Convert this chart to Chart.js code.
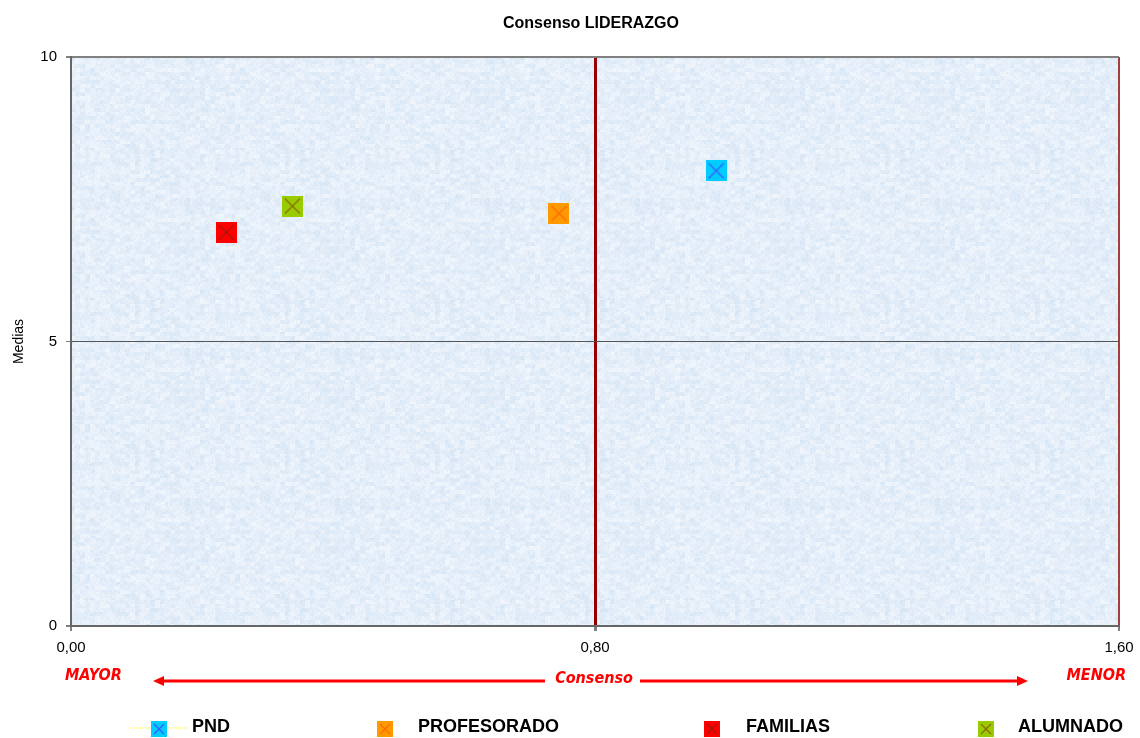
<!DOCTYPE html>
<html>
<head>
<meta charset="utf-8">
<script src="https://cdn.jsdelivr.net/npm/chart.js@4.4.0/dist/chart.umd.min.js"></script>
<style>
  html, body { margin: 0; padding: 0; background: #ffffff; }
</style>
</head>
<body>
<canvas id="chart" width="1140" height="738"></canvas>
<script>
// ---- data ----
var series = ['PND', 'PROFESORADO', 'FAMILIAS', 'ALUMNADO'];
var consenso = [0.985, 0.745, 0.237, 0.338];
var medias = [8.0, 7.25, 6.92, 7.38];
var xTicks = [0, 0.8, 1.6];
var yTicks = [0, 5, 10];

var fillColors = ['#00ccff', '#ff9900', '#ff0000', '#99cc00'];
var crossColors = ['#3a5cff', '#ff6a00', '#a01a10', '#8c6a00'];

// square marker with an x inside, like the excel ones
function markerImg(fill, cross, size) {
    var c = document.createElement('canvas');
    c.width = size; c.height = size;
    var g = c.getContext('2d');
    g.fillStyle = fill;
    g.fillRect(0, 0, size, size);
    g.strokeStyle = cross;
    g.lineWidth = 1.3;
    g.beginPath();
    g.moveTo(3, 3); g.lineTo(size - 3, size - 3);
    g.moveTo(size - 3, 3); g.lineTo(3, size - 3);
    g.stroke();
    return c;
}

// light blue paper texture for the plot area
function hash(x, y) {
    var s = Math.sin(x * 12.9898 + y * 78.233) * 43758.5453;
    return s - Math.floor(s);
}
function makeTexture(ctx) {
    var c = document.createElement('canvas');
    c.width = 150; c.height = 150;
    var g = c.getContext('2d');
    var img = g.createImageData(150, 150);
    for (var y = 0; y < 150; y++) {
        for (var x = 0; x < 150; x++) {
            var n = 0.5 * hash(Math.floor(x / 5), Math.floor(y / 4)) +
                    0.3 * hash(Math.floor(x / 2) + 91, Math.floor(y / 2) + 17) +
                    0.2 * hash(x + 7, y + 3);
            var i = (y * 150 + x) * 4;
            img.data[i] = 210 + n * 36;
            img.data[i + 1] = 227 + n * 22;
            img.data[i + 2] = 244 + n * 10;
            img.data[i + 3] = 255;
        }
    }
    g.putImageData(img, 0, 0);
    return ctx.createPattern(c, 'repeat');
}

var datasets = series.map(function (name, i) {
    return {
        label: name,
        data: [{ x: consenso[i], y: medias[i] }],
        pointStyle: markerImg(fillColors[i], crossColors[i], 21),
        backgroundColor: fillColors[i],
        borderColor: crossColors[i]
    };
});
var legendMarks = series.map(function (name, i) {
    return markerImg(fillColors[i], crossColors[i], 16);
});

var decorPlugin = {
    id: 'decor',
    beforeDraw: function (chart) {
        var ctx = chart.ctx, a = chart.chartArea;
        if (!chart.$texture) chart.$texture = makeTexture(ctx);
        ctx.save();
        ctx.fillStyle = chart.$texture;
        ctx.fillRect(a.left, a.top, a.right - a.left, a.bottom - a.top);
        ctx.restore();
    },
    afterDraw: function (chart) {
        var ctx = chart.ctx;
        ctx.save();
        // title
        ctx.fillStyle = '#000';
        ctx.font = 'bold 16px "Liberation Sans", Arial, sans-serif';
        ctx.textAlign = 'center';
        ctx.textBaseline = 'alphabetic';
        ctx.fillText('Consenso LIDERAZGO', 591, 28);

        // consenso arrow row
        ctx.fillStyle = '#ff0000';
        ctx.strokeStyle = '#ff0000';
        ctx.font = 'italic bold 16px "DejaVu Sans Condensed", "DejaVu Sans", sans-serif';
        ctx.textAlign = 'left';
        ctx.fillText('MAYOR', 65, 680);
        ctx.textAlign = 'right';
        ctx.fillText('MENOR', 1126, 680);
        ctx.textAlign = 'center';
        ctx.fillText('Consenso', 594, 683);
        ctx.lineWidth = 3;
        ctx.beginPath();
        ctx.moveTo(160, 681); ctx.lineTo(545, 681);
        ctx.moveTo(640, 681); ctx.lineTo(1021, 681);
        ctx.stroke();
        ctx.beginPath();
        ctx.moveTo(153, 681); ctx.lineTo(164, 676); ctx.lineTo(164, 686); ctx.closePath();
        ctx.moveTo(1028, 681); ctx.lineTo(1017, 676); ctx.lineTo(1017, 686); ctx.closePath();
        ctx.fill();

        // legend
        var markX = [159, 385, 712, 986];
        var textX = [192, 418, 746, 1018];
        ctx.strokeStyle = '#ffff99';
        ctx.lineWidth = 2;
        ctx.setLineDash([2, 1]);
        ctx.beginPath();
        ctx.moveTo(130, 728); ctx.lineTo(188, 728);
        ctx.stroke();
        ctx.setLineDash([]);
        ctx.font = 'bold 18px "Liberation Sans", Arial, sans-serif';
        ctx.fillStyle = '#000';
        ctx.textAlign = 'left';
        chart.data.datasets.forEach(function (ds, i) {
            ctx.drawImage(legendMarks[i], markX[i] - 8, 721);
            ctx.fillText(ds.label, textX[i], 732);
        });
        ctx.restore();
    }
};

new Chart(document.getElementById('chart'), {
    type: 'scatter',
    data: { datasets: datasets },
    plugins: [decorPlugin],
    options: {
        responsive: false,
        animation: false,
        layout: { padding: { left: 0, top: 57, right: 21, bottom: 72 } },
        plugins: {
            legend: { display: false },
            title: { display: false },
            tooltip: { enabled: false }
        },
        scales: {
            x: {
                type: 'linear',
                min: 0,
                max: 1.6,
                afterBuildTicks: function (scale) {
                    scale.ticks = xTicks.map(function (v) { return { value: v }; });
                },
                afterFit: function (scale) {
                    scale.height = 40;
                    scale.paddingLeft = 0;
                    scale.paddingRight = 0;
                },
                ticks: {
                    color: '#000',
                    font: { size: 15 },
                    padding: 8,
                    maxRotation: 0,
                    callback: function (v) { return Number(v).toFixed(2).replace('.', ','); }
                },
                grid: {
                    color: function (c) {
                        var v = c.tick ? c.tick.value : null;
                        if (v === 0.8) return '#960000';
                        if (v === 1.6) return '#a3403e';
                        return 'rgba(0,0,0,0)';
                    },
                    lineWidth: function (c) {
                        var v = c.tick ? c.tick.value : null;
                        return v === 0.8 ? 3 : 2;
                    },
                    tickColor: '#808080',
                    tickLength: 5
                },
                border: { display: true, color: '#666666', width: 2 }
            },
            y: {
                type: 'linear',
                min: 0,
                max: 10,
                afterBuildTicks: function (scale) {
                    scale.ticks = yTicks.map(function (v) { return { value: v }; });
                },
                afterFit: function (scale) {
                    scale.width = 71;
                    scale.paddingTop = 0;
                    scale.paddingBottom = 0;
                },
                title: {
                    display: true,
                    text: 'Medias',
                    color: '#000',
                    font: { size: 14 },
                    padding: { top: 11, bottom: 0 }
                },
                ticks: {
                    color: '#000',
                    font: { size: 15 },
                    padding: 9
                },
                grid: {
                    color: function (c) {
                        var v = c.tick ? c.tick.value : null;
                        if (v === 5) return '#555555';
                        if (v === 10) return '#808080';
                        return 'rgba(0,0,0,0)';
                    },
                    lineWidth: function (c) {
                        var v = c.tick ? c.tick.value : null;
                        return v === 5 ? 1 : 2;
                    },
                    tickColor: '#808080',
                    tickLength: 5
                },
                border: { display: true, color: '#666666', width: 2 }
            }
        }
    }
});
</script>
</body>
</html>
